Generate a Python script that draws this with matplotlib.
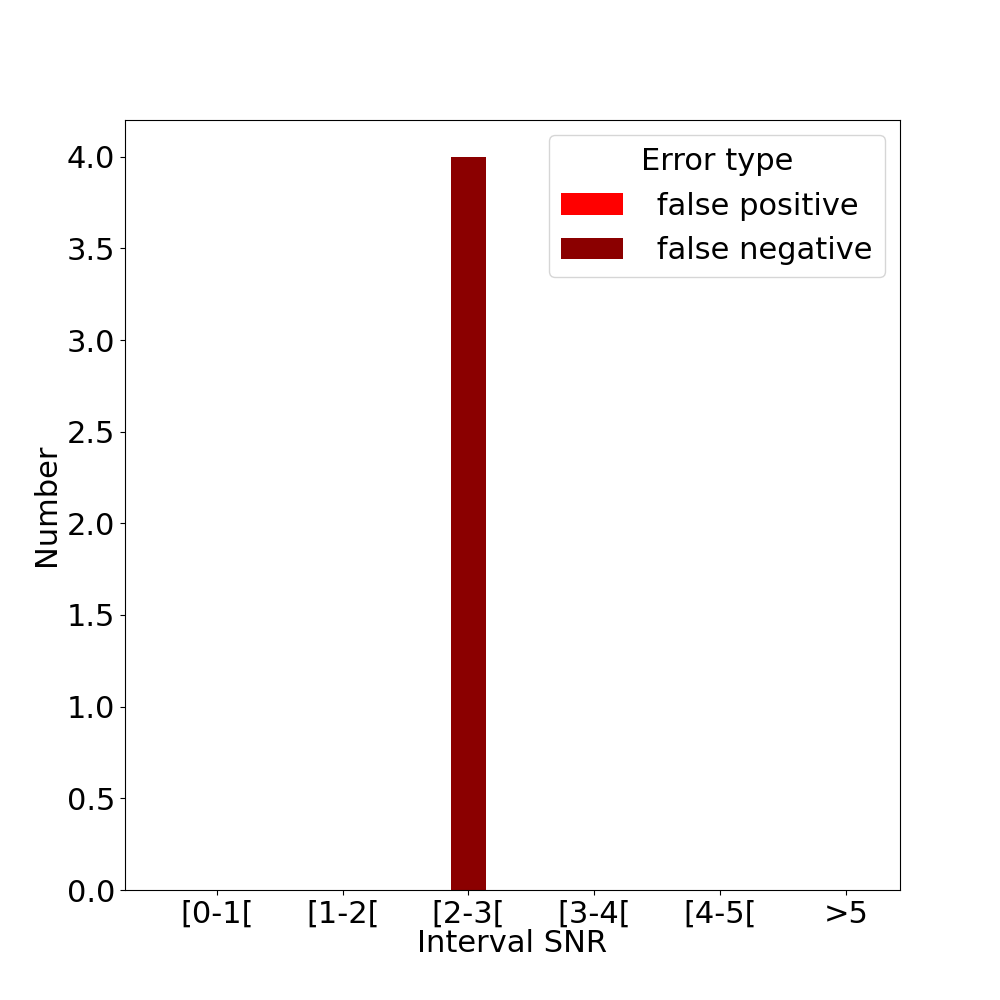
import numpy as np
import matplotlib.pyplot as plt

intervals = ['[0-1[', '[1-2[', '[2-3[', '[3-4[', '[4-5[', '>5']
false_positive = [0, 0, 0, 0, 0, 0]
false_negative = [0, 0, 4, 0, 0, 0]

plt.rcParams['font.size'] = 22
fig, ax = plt.subplots(figsize=(10, 10), dpi=100)
x = np.arange(len(intervals))
w = 0.28
ax.bar(x - w, false_positive, width=w, color='red', label=' false positive')
ax.bar(x, false_negative, width=w, color='darkred', label=' false negative')
ax.set_xticks(x)
ax.set_xticklabels(intervals)
ax.set_xlim(-0.73, 5.43)
ax.set_ylim(0, 4.2)
ax.set_xlabel('Interval SNR', labelpad=0)
ax.set_ylabel('Number')
ax.legend(title='Error type', loc='upper right')
fig.savefig('out.png')
